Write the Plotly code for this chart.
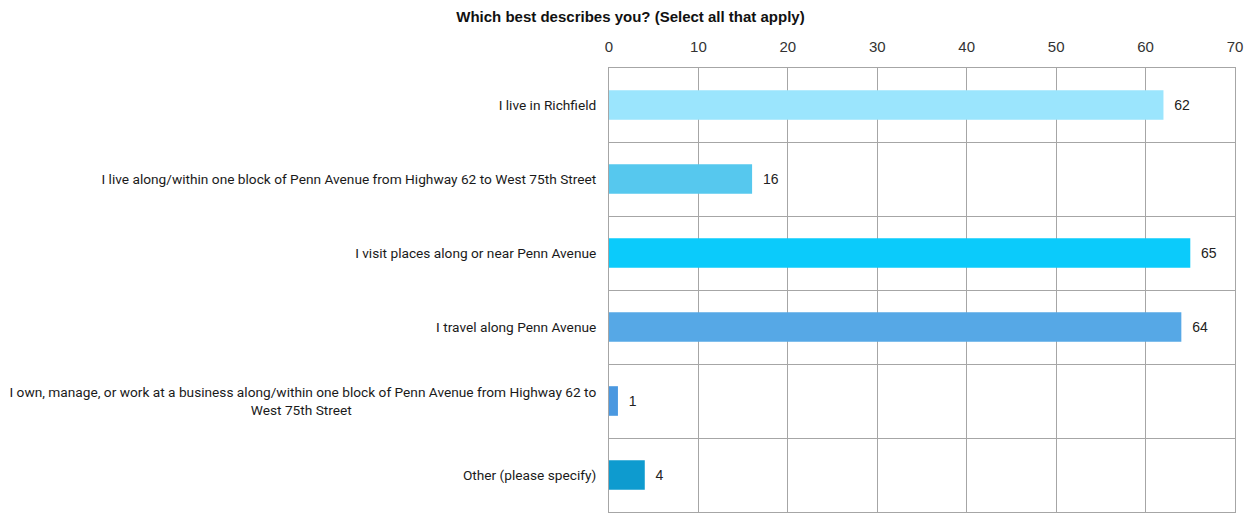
import plotly.graph_objects as go

NBSP_PAD = "\u00a0" * 72  # centres the wrapped second line under the first

categories = [
    "I live in Richfield",
    "I live along/within one block of Penn Avenue from Highway 62 to West 75th Street",
    "I visit places along or near Penn Avenue",
    "I travel along Penn Avenue",
    "I own, manage, or work at a business along/within one block of Penn Avenue from Highway 62 to<br>West 75th Street" + NBSP_PAD,
    "Other (please specify)",
]
values = [62, 16, 65, 64, 1, 4]
colors = ["#9BE5FD", "#56C8EE", "#0BCBFB", "#56A8E6", "#4A98E0", "#0E9BCF"]
x_ticks = [0, 10, 20, 30, 40, 50, 60, 70]

fig = go.Figure(go.Bar(
    x=values, y=categories, orientation="h",
    marker=dict(color=colors, line=dict(width=0)),
    width=0.4,
    text=["  " + str(v) for v in values], textposition="outside",
    textfont=dict(family="Liberation Sans, Arial", size=14, color="#222"),
    cliponaxis=False,
))

fig.update_layout(
    width=1251, height=513,
    margin=dict(l=609, r=16, t=68, b=1),
    paper_bgcolor="white", plot_bgcolor="white",
    title=dict(text="<b>Which best describes you? (Select all that apply)</b>",
               x=0.504, xanchor="center", y=0.967, yanchor="middle",
               font=dict(family="Liberation Sans, Arial", size=15, color="#111")),
    showlegend=False,
    xaxis=dict(side="top", range=[0, 70], tickvals=x_ticks, automargin=False,
               showgrid=True, gridcolor="#A6A6A6", gridwidth=1,
               showline=True, linecolor="#A6A6A6", mirror=True, zeroline=False,
               ticks="", ticklabelstandoff=9,
               tickfont=dict(family="Liberation Sans, Arial", size=15, color="#333")),
    yaxis=dict(type="category", autorange="reversed", tickson="boundaries", automargin=False,
               showgrid=True, gridcolor="#A6A6A6", gridwidth=1,
               showline=True, linecolor="#A6A6A6", mirror=True,
               ticks="", ticklabelstandoff=9,
               tickfont=dict(family="Roboto, Arial", size=13.7, color="#1a1a1a")),
)

fig.write_html("out.html", config={"displayModeBar": False},
               post_script="document.body.style.margin='0px';")
